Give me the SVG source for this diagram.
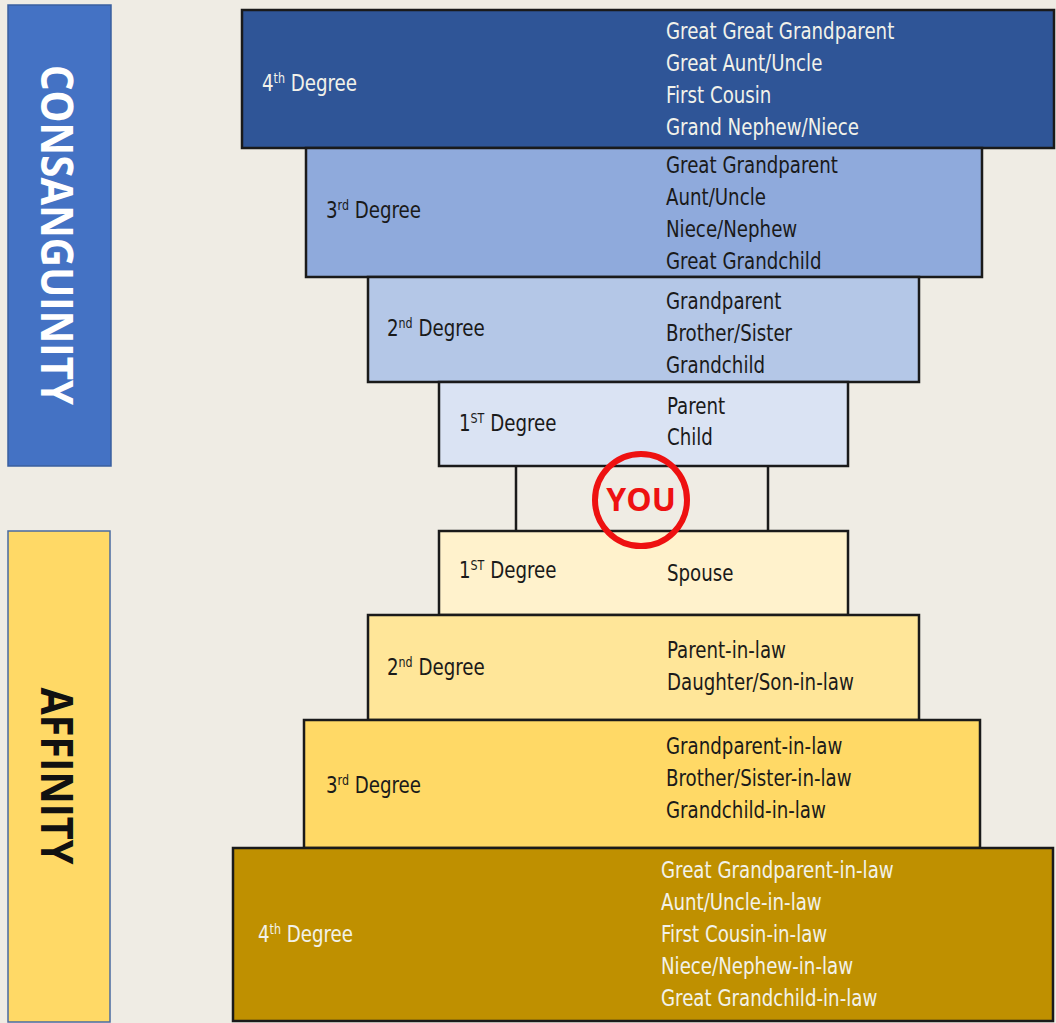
<svg xmlns="http://www.w3.org/2000/svg" width="1056" height="1023" viewBox="0 0 1056 1023">
<style>
.box{stroke:#1a1a1a;stroke-width:2.5}
.t{font-family:"DejaVu Sans Condensed","Liberation Sans",sans-serif;font-size:23px;fill:#1a1a1a;transform-box:fill-box;transform-origin:0 0;transform:scaleX(0.88)}
.w{fill:#f2f2ea}
.sup{font-size:14px}
.side{font-family:"Open Sans","Liberation Sans",sans-serif;font-weight:bold;font-size:44px;dominant-baseline:central;text-anchor:middle}
.conn{stroke:#1a1a1a;stroke-width:2.5;fill:none}
</style>
<rect x="0" y="0" width="1056" height="1023" fill="#EFECE4"/>
<g id="consanguinity-bar">
<rect x="8" y="5" width="103" height="461" fill="#4472C4" stroke="#3a5f9e" stroke-width="1.5"/>
<text class="side" x="58" y="235" fill="#ffffff" transform="rotate(90 58 235)" textLength="340" lengthAdjust="spacingAndGlyphs">CONSANGUINITY</text>
</g>
<g id="affinity-bar">
<rect x="8" y="531" width="102" height="491" fill="#FFD966" stroke="#4a6aa0" stroke-width="1.5"/>
<text class="side" x="58" y="776" fill="#111111" transform="rotate(90 58 776)" textLength="177" lengthAdjust="spacingAndGlyphs">AFFINITY</text>
</g>
<g id="connectors">
<line class="conn" x1="516" y1="466" x2="516" y2="531"/>
<line class="conn" x1="768" y1="466" x2="768" y2="531"/>
</g>
<g id="c4">
<rect class="box" x="242" y="10" width="812" height="138" fill="#2F5597"/>
<text class="t w" x="262" y="91">4<tspan class="sup" dy="-8">th</tspan><tspan dy="8"> Degree</tspan></text>
<text class="t w" x="666" y="39">Great Great Grandparent</text>
<text class="t w" x="666" y="71">Great Aunt/Uncle</text>
<text class="t w" x="666" y="103">First Cousin</text>
<text class="t w" x="666" y="135">Grand Nephew/Niece</text>
</g>
<g id="c3">
<rect class="box" x="306" y="148" width="676" height="129" fill="#8FAADC"/>
<text class="t" x="326" y="218">3<tspan class="sup" dy="-8">rd</tspan><tspan dy="8"> Degree</tspan></text>
<text class="t" x="666" y="173">Great Grandparent</text>
<text class="t" x="666" y="205">Aunt/Uncle</text>
<text class="t" x="666" y="237">Niece/Nephew</text>
<text class="t" x="666" y="269">Great Grandchild</text>
</g>
<g id="c2">
<rect class="box" x="368" y="277" width="551" height="105" fill="#B4C7E7"/>
<text class="t" x="387" y="336">2<tspan class="sup" dy="-8">nd</tspan><tspan dy="8"> Degree</tspan></text>
<text class="t" x="666" y="309">Grandparent</text>
<text class="t" x="666" y="341">Brother/Sister</text>
<text class="t" x="666" y="373">Grandchild</text>
</g>
<g id="c1">
<rect class="box" x="439" y="382" width="409" height="84" fill="#DAE3F3"/>
<text class="t" x="459" y="431">1<tspan class="sup" dy="-8">ST</tspan><tspan dy="8"> Degree</tspan></text>
<text class="t" x="667" y="414">Parent</text>
<text class="t" x="667" y="445">Child</text>
</g>
<g id="a1">
<rect class="box" x="439" y="531" width="409" height="84" fill="#FFF2CC"/>
<text class="t" x="459" y="578">1<tspan class="sup" dy="-8">ST</tspan><tspan dy="8"> Degree</tspan></text>
<text class="t" x="667" y="581">Spouse</text>
</g>
<g id="you">
<circle cx="641" cy="500" r="46" fill="none" stroke="#EE1111" stroke-width="6"/>
<text x="641" y="511" text-anchor="middle" font-family="'Open Sans','Liberation Sans',sans-serif" font-weight="bold" font-size="32" fill="#EE1111">YOU</text>
</g>
<g id="a2">
<rect class="box" x="368" y="615" width="551" height="105" fill="#FFE699"/>
<text class="t" x="387" y="675">2<tspan class="sup" dy="-8">nd</tspan><tspan dy="8"> Degree</tspan></text>
<text class="t" x="667" y="658">Parent-in-law</text>
<text class="t" x="667" y="690">Daughter/Son-in-law</text>
</g>
<g id="a3">
<rect class="box" x="304" y="720" width="676" height="128" fill="#FFD966"/>
<text class="t" x="326" y="793">3<tspan class="sup" dy="-8">rd</tspan><tspan dy="8"> Degree</tspan></text>
<text class="t" x="666" y="754">Grandparent-in-law</text>
<text class="t" x="666" y="786">Brother/Sister-in-law</text>
<text class="t" x="666" y="818">Grandchild-in-law</text>
</g>
<g id="a4">
<rect class="box" x="233" y="848" width="820" height="173" fill="#BF9000"/>
<text class="t w" x="258" y="942">4<tspan class="sup" dy="-8">th</tspan><tspan dy="8"> Degree</tspan></text>
<text class="t w" x="661" y="878">Great Grandparent-in-law</text>
<text class="t w" x="661" y="910">Aunt/Uncle-in-law</text>
<text class="t w" x="661" y="942">First Cousin-in-law</text>
<text class="t w" x="661" y="974">Niece/Nephew-in-law</text>
<text class="t w" x="661" y="1006">Great Grandchild-in-law</text>
</g>
</svg>
